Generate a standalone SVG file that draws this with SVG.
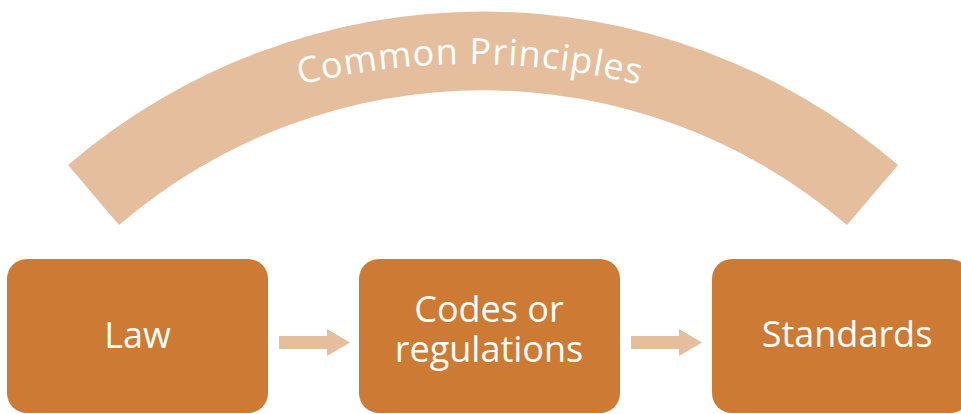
<svg xmlns="http://www.w3.org/2000/svg" width="961" height="414" viewBox="0 0 961 414">
  <style>
    .box { fill: #CD7B34; }
    .light { fill: #E5BF9D; }
    .label { fill: #FFFFFF; font-family: "Open Sans", "Noto Sans", sans-serif; font-size: 36px; text-anchor: middle; }
    .arcLabel { fill: #FFFFFF; font-family: "Open Sans", "Noto Sans", sans-serif; font-size: 36px; letter-spacing: 1px; }
  </style>
  <defs>
    <path id="textArc" d="M -230,764 A 700,700 0 0 1 1170,764"/>
  </defs>
  <rect width="961" height="414" fill="#FFFFFF"/>
  <g id="common-principles">
    <path class="light" d="M68,165 A638,638 0 0 1 898,165 L847,225 A559,559 0 0 0 119,225 Z"/>
    <text class="arcLabel"><textPath href="#textArc" startOffset="50%" text-anchor="middle">Common Principles</textPath></text>
  </g>
  <g id="connectors">
    <polygon class="light" points="279,336 327,336 327,329 350,342.5 327,356 327,349 279,349"/>
    <polygon class="light" points="631,336 679,336 679,329 702,342.5 679,356 679,349 631,349"/>
  </g>
  <g id="law">
    <rect class="box" x="7" y="259" width="261" height="154" rx="20" ry="20"/>
    <text class="label" x="137.5" y="348">Law</text>
  </g>
  <g id="codes">
    <rect class="box" x="359" y="259" width="261" height="154" rx="20" ry="20"/>
    <text class="label" x="489" y="322">Codes or</text>
    <text class="label" x="489" y="362">regulations</text>
  </g>
  <g id="standards">
    <rect class="box" x="712" y="259" width="258" height="154" rx="20" ry="20"/>
    <text class="label" x="847" y="347">Standards</text>
  </g>
</svg>
